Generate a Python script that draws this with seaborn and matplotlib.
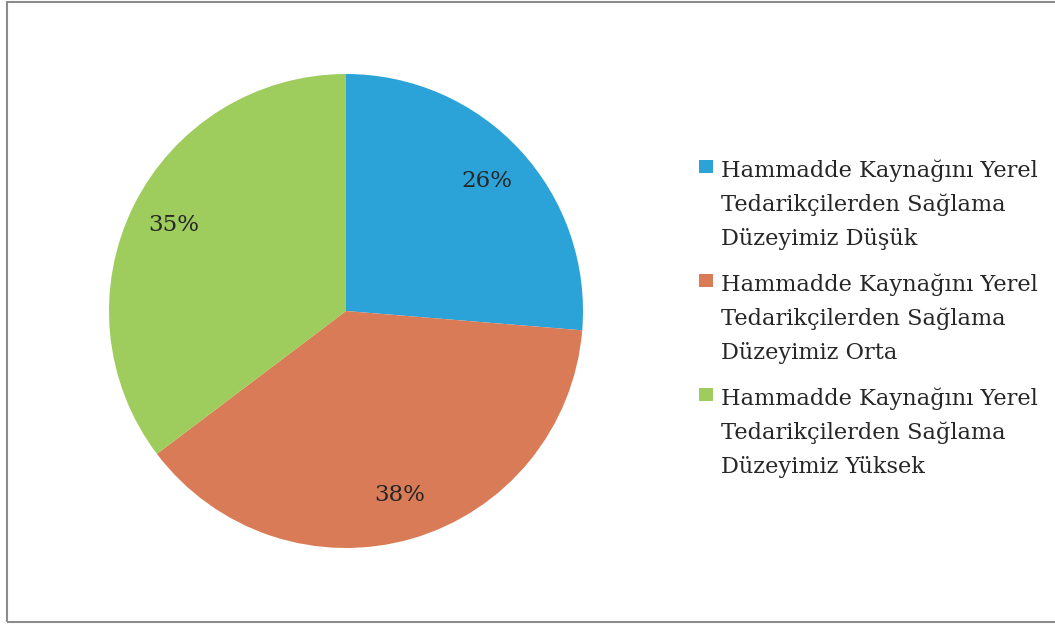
import matplotlib
matplotlib.use('Agg')
import matplotlib.pyplot as plt
import seaborn as sns
from matplotlib.patches import Rectangle

# ===============================
# Datos
# ===============================
categorias = [
    'Hammadde Kaynağını Yerel\nTedarikçilerden Sağlama\nDüzeyimiz Düşük',
    'Hammadde Kaynağını Yerel\nTedarikçilerden Sağlama\nDüzeyimiz Orta',
    'Hammadde Kaynağını Yerel\nTedarikçilerden Sağlama\nDüzeyimiz Yüksek',
]
porcentajes = [26.3, 38.4, 35.3]
colores = ['#2BA3D8', '#DA7B58', '#9ECC5D']

sns.set_theme(style='white')
plt.rcParams['font.family'] = ['DejaVu Serif']

W, H = 1055, 625
fig = plt.figure(figsize=(W / 100, H / 100), dpi=100)
fig.patch.set_facecolor('white')

# marco gris
fig.patches.append(Rectangle((7 / W, 3 / H), 1.2, 620.5 / H, transform=fig.transFigure,
                             fill=False, edgecolor='#8c8c8c', linewidth=1.5))

# ===============================
# Gráfico circular
# ===============================
cx, cy, r = 346, 311, 237
ax = fig.add_axes([(cx - r) / W, (H - cy - r) / H, 2 * r / W, 2 * r / H])
ax.pie(porcentajes, colors=colores, startangle=90, counterclock=False,
       autopct=lambda p: f'{p:.0f}%', pctdistance=0.81,
       textprops={'fontsize': 16.5, 'color': '#262626'},
       wedgeprops={'linewidth': 0})
ax.set_xlim(-1, 1)
ax.set_ylim(-1, 1)
ax.set_aspect('auto')

# ===============================
# Leyenda manual
# ===============================
bases = [177, 291, 405]
for cat, col, b in zip(categorias, colores, bases):
    fig.patches.append(Rectangle((699 / W, 1 - (b - 4) / H), 14 / W, 13 / H,
                                 transform=fig.transFigure, facecolor=col, edgecolor='none'))
    for j, linea in enumerate(cat.split('\n')):
        fig.text(721 / W, 1 - (b + 34 * j) / H, linea, ha='left', va='baseline',
                 fontsize=16.2, color='#262626')

fig.savefig('out.png', dpi=100)
